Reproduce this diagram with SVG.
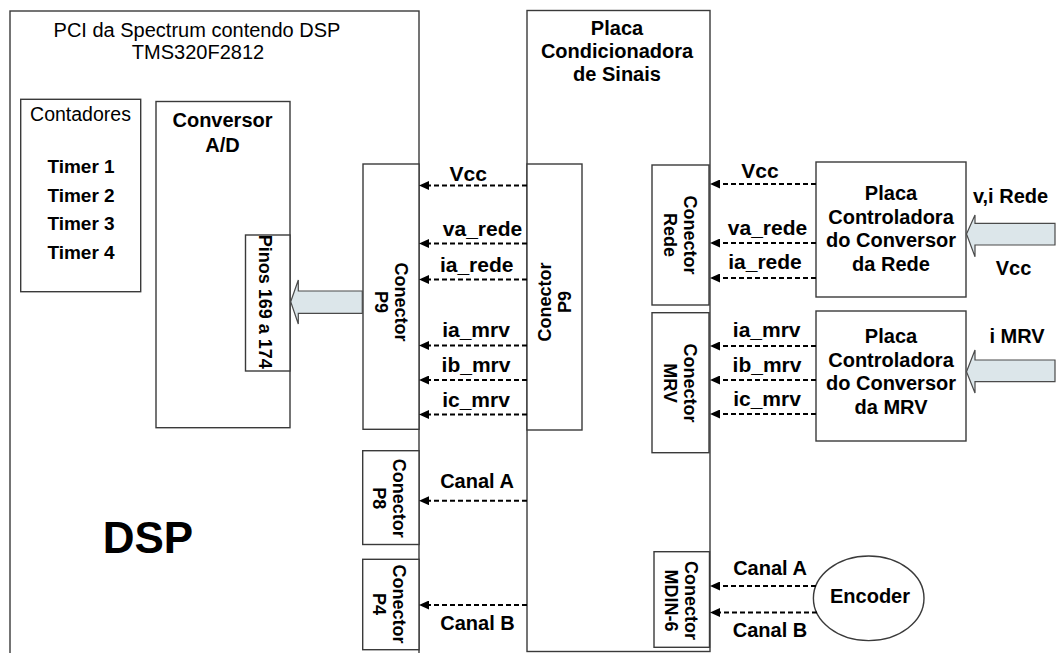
<svg xmlns="http://www.w3.org/2000/svg" width="1059" height="653" viewBox="0 0 1059 653">
<style>
.box{fill:#fff;stroke:#3a3a3a;stroke-width:1.4}
.t{font-family:"Liberation Sans",Arial,sans-serif;fill:#000}
.r{font-size:20px}
.b{font-size:20px;font-weight:bold}
.lb{font-size:21px;font-weight:bold}
.tm{font-size:19px;font-weight:bold}
.rot{font-size:18px;font-weight:bold}
.dash{stroke:#000;stroke-width:2;stroke-dasharray:5,3;fill:none;marker-end:url(#ah)}
.blk{fill:#dce6ea;stroke:#4a4a4a;stroke-width:1.2}
</style>
<defs>
<marker id="ah" viewBox="0 0 10 9" refX="2" refY="4.5" markerWidth="10" markerHeight="9" markerUnits="userSpaceOnUse" orient="auto">
<path d="M0,0 L10,4.5 L0,9 z" fill="#000"/>
</marker>
</defs>
<rect width="1059" height="653" fill="#fff"/>

<g id="dsp">
<rect class="box" x="10" y="11" width="409" height="660"/>
<text class="t r" text-anchor="middle" x="197" y="36.5">PCI da Spectrum contendo DSP</text>
<text class="t r" text-anchor="middle" x="198" y="58.5">TMS320F2812</text>
<text class="t" text-anchor="middle" x="148" y="553" font-size="44" font-weight="bold">DSP</text>
</g>

<g id="contadores">
<rect class="box" x="20.7" y="99.3" width="120" height="192.4"/>
<text class="t" font-size="19.5" text-anchor="middle" x="80.5" y="120.7">Contadores</text>
<text class="t tm" text-anchor="middle" x="81" y="173.3">Timer 1</text>
<text class="t tm" text-anchor="middle" x="81" y="201.7">Timer 2</text>
<text class="t tm" text-anchor="middle" x="81" y="230">Timer 3</text>
<text class="t tm" text-anchor="middle" x="81" y="259">Timer 4</text>
</g>

<g id="conversor">
<rect class="box" x="156" y="101.5" width="134" height="326.2"/>
<text class="t b" text-anchor="middle" x="222.5" y="127.3">Conversor</text>
<text class="t b" text-anchor="middle" x="222.5" y="151.7">A/D</text>
</g>

<g id="pinos">
<rect class="box" x="245.5" y="235" width="44.5" height="136"/>
<text class="t rot" text-anchor="middle" transform="translate(258.5,301.7) rotate(90)">Pinos 169 a 174</text>
</g>

<g id="p9-dsp">
<rect class="box" x="363" y="164" width="56" height="265.3"/>
<text class="t rot" text-anchor="middle" transform="translate(395,302) rotate(90)"><tspan x="0" y="0">Conector</tspan><tspan x="0" y="20">P9</tspan></text>
</g>

<g id="p8">
<rect class="box" x="362.7" y="450.7" width="56.3" height="93.8"/>
<text class="t rot" text-anchor="middle" transform="translate(393,498.3) rotate(90)"><tspan x="0" y="0">Conector</tspan><tspan x="0" y="20">P8</tspan></text>
</g>

<g id="p4">
<rect class="box" x="362.7" y="559.3" width="56.3" height="90.4"/>
<text class="t rot" text-anchor="middle" transform="translate(393,604) rotate(90)"><tspan x="0" y="0">Conector</tspan><tspan x="0" y="20">P4</tspan></text>
</g>

<g id="placa">
<rect class="box" x="527" y="10.5" width="183" height="641"/>
<text class="t b" text-anchor="middle" x="617" y="35">Placa</text>
<text class="t b" text-anchor="middle" x="617" y="58.3">Condicionadora</text>
<text class="t b" text-anchor="middle" x="617" y="80.7">de Sinais</text>
</g>

<g id="p9-placa">
<rect class="box" x="527" y="164" width="55" height="266"/>
<text class="t rot" text-anchor="middle" transform="translate(551,302) rotate(-90)"><tspan x="0" y="0">Conector</tspan><tspan x="0" y="20">P9</tspan></text>
</g>

<g id="conector-rede">
<rect class="box" x="652" y="165" width="57" height="140"/>
<text class="t rot" text-anchor="middle" transform="translate(684,235) rotate(90)"><tspan x="0" y="0">Conector</tspan><tspan x="0" y="20">Rede</tspan></text>
</g>

<g id="conector-mrv">
<rect class="box" x="652" y="312.7" width="57" height="140"/>
<text class="t rot" text-anchor="middle" transform="translate(684,383) rotate(90)"><tspan x="0" y="0">Conector</tspan><tspan x="0" y="20">MRV</tspan></text>
</g>

<g id="conector-mdin">
<rect class="box" x="654" y="551.7" width="55.5" height="95.6"/>
<text class="t rot" text-anchor="middle" transform="translate(685,600.5) rotate(90)"><tspan x="0" y="0">Conector</tspan><tspan x="0" y="20">MDIN-6</tspan></text>
</g>

<g id="ctrl-rede">
<rect class="box" x="816" y="162" width="150" height="135"/>
<text class="t b" text-anchor="middle" x="891" y="200">Placa</text>
<text class="t b" text-anchor="middle" x="891" y="223.5">Controladora</text>
<text class="t b" text-anchor="middle" x="891" y="247">do Conversor</text>
<text class="t b" text-anchor="middle" x="891" y="270.5">da Rede</text>
</g>

<g id="ctrl-mrv">
<rect class="box" x="816" y="311" width="150" height="130"/>
<text class="t b" text-anchor="middle" x="891" y="343">Placa</text>
<text class="t b" text-anchor="middle" x="891" y="366.5">Controladora</text>
<text class="t b" text-anchor="middle" x="891" y="390">do Conversor</text>
<text class="t b" text-anchor="middle" x="891" y="413.5">da MRV</text>
</g>

<g id="encoder">
<ellipse class="box" cx="868.7" cy="598.3" rx="55.3" ry="42.3"/>
<text class="t b" text-anchor="middle" x="870" y="603.3">Encoder</text>
</g>

<g id="inputs">
<polygon class="blk" points="290.7,301.7 298.3,280 298.3,291 362.3,291 362.3,313.3 298.3,313.3 298.3,324"/>
<polygon class="blk" points="966.5,234 975,215 975,223.3 1055,223.3 1055,245 975,245 975,256.7"/>
<polygon class="blk" points="966.5,371.7 975,350 975,360 1055,360 1055,381.7 975,381.7 975,393"/>
<text class="t b" text-anchor="middle" x="1010.5" y="203">v,i Rede</text>
<text class="t b" text-anchor="middle" x="1013.5" y="275">Vcc</text>
<text class="t b" text-anchor="middle" x="1017" y="343">i MRV</text>
</g>

<g id="connectors">
<line class="dash" x1="527" y1="185.5" x2="427" y2="185.5"/>
<line class="dash" x1="527" y1="243.5" x2="427" y2="243.5"/>
<line class="dash" x1="527" y1="279.5" x2="427" y2="279.5"/>
<line class="dash" x1="527" y1="345.5" x2="427" y2="345.5"/>
<line class="dash" x1="527" y1="380" x2="427" y2="380"/>
<line class="dash" x1="527" y1="414.5" x2="427" y2="414.5"/>
<line class="dash" x1="527" y1="500.7" x2="427" y2="500.7"/>
<line class="dash" x1="527" y1="605" x2="427" y2="605"/>
<line class="dash" x1="816" y1="184" x2="718" y2="184"/>
<line class="dash" x1="816" y1="243" x2="718" y2="243"/>
<line class="dash" x1="816" y1="278" x2="718" y2="278"/>
<line class="dash" x1="816" y1="346" x2="718" y2="346"/>
<line class="dash" x1="816" y1="380" x2="718" y2="380"/>
<line class="dash" x1="816" y1="414" x2="718" y2="414"/>
<line class="dash" x1="816" y1="586" x2="718" y2="586"/>
<line class="dash" x1="817" y1="612.5" x2="718" y2="612.5"/>
<text class="t lb" text-anchor="middle" x="468.3" y="180.7">Vcc</text>
<text class="t lb" text-anchor="middle" x="482.5" y="236">va_rede</text>
<text class="t lb" text-anchor="middle" x="476.7" y="271.7">ia_rede</text>
<text class="t lb" text-anchor="middle" x="476" y="336.7">ia_mrv</text>
<text class="t lb" text-anchor="middle" x="476" y="372.2">ib_mrv</text>
<text class="t lb" text-anchor="middle" x="476" y="406.7">ic_mrv</text>
<text class="t b" text-anchor="middle" x="477" y="488.3">Canal A</text>
<text class="t b" text-anchor="middle" x="477.5" y="630">Canal B</text>
<text class="t lb" text-anchor="middle" x="760" y="178.3">Vcc</text>
<text class="t lb" text-anchor="middle" x="767.5" y="235">va_rede</text>
<text class="t lb" text-anchor="middle" x="765" y="269.3">ia_rede</text>
<text class="t lb" text-anchor="middle" x="766.7" y="336.7">ia_mrv</text>
<text class="t lb" text-anchor="middle" x="767" y="371.7">ib_mrv</text>
<text class="t lb" text-anchor="middle" x="767" y="406">ic_mrv</text>
<text class="t b" text-anchor="middle" x="770" y="575">Canal A</text>
<text class="t b" text-anchor="middle" x="770" y="636.7">Canal B</text>
</g>
</svg>
